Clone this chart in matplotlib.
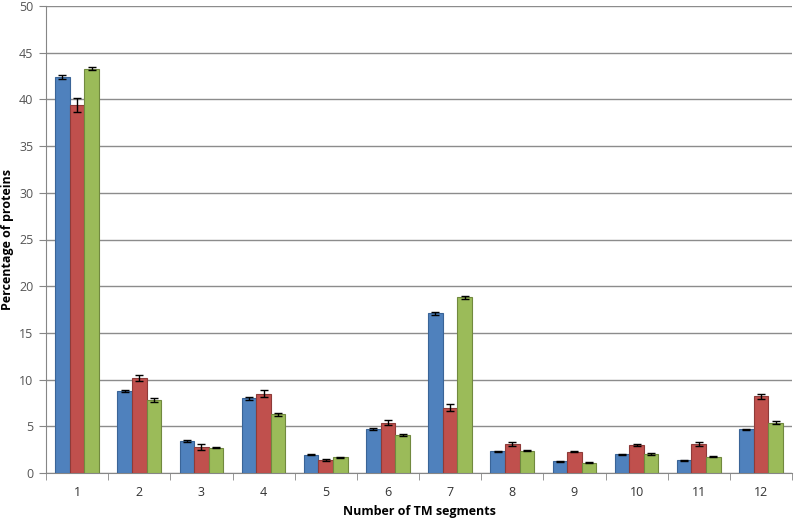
import matplotlib
matplotlib.use("Agg")
import matplotlib.pyplot as plt
import numpy as np

categories = ["1", "2", "3", "4", "5", "6", "7", "8", "9", "10", "11", "12"]
series_a = [42.4, 8.8, 3.4, 8.0, 1.95, 4.7, 17.1, 2.35, 1.25, 2.0, 1.35, 4.7]
series_b = [39.4, 10.2, 2.8, 8.5, 1.4, 5.4, 7.0, 3.1, 2.3, 3.0, 3.1, 8.2]
series_c = [43.3, 7.8, 2.7, 6.3, 1.7, 4.1, 18.8, 2.4, 1.1, 2.05, 1.75, 5.4]
err_a = [0.2, 0.1, 0.1, 0.15, 0.05, 0.1, 0.15, 0.05, 0.05, 0.05, 0.05, 0.05]
err_b = [0.7, 0.3, 0.3, 0.4, 0.1, 0.3, 0.35, 0.2, 0.1, 0.1, 0.2, 0.3]
err_c = [0.2, 0.2, 0.05, 0.15, 0.05, 0.1, 0.15, 0.05, 0.05, 0.1, 0.05, 0.15]

plt.rcParams['font.family'] = ['Open Sans', 'DejaVu Sans']

fig = plt.figure(figsize=(7.96, 5.22), dpi=100)
ax = fig.add_axes([46/796, 49/522, 746/796, 467/522])

x = np.arange(len(categories))
w = 0.235
fills = ["#4F81BD", "#C0504D", "#9BBB59"]
edges = ["#3A6497", "#8E3B39", "#71893F"]
for i, (vals, errs) in enumerate([(series_a, err_a), (series_b, err_b), (series_c, err_c)]):
    pos = x + (i - 1) * w
    ax.bar(pos, vals, width=w, color=fills[i], edgecolor=edges[i], linewidth=0.8, zorder=3)
    ax.errorbar(pos, vals, yerr=errs, fmt='none', ecolor='black', elinewidth=1.0,
                capsize=3, capthick=1.0, zorder=4)

ax.set_xlim(-0.5, len(categories) - 0.5)
ax.set_ylim(0, 50)
ax.set_yticks(np.arange(0, 51, 5))
ax.set_xticks(x)
ax.set_xticklabels(categories)
ax.set_xticks(np.arange(-0.5, len(categories), 1), minor=True)
ax.tick_params(axis='x', which='major', length=0, pad=9, labelsize=9, labelcolor='#333333')
ax.tick_params(axis='x', which='minor', length=5, color='#868686', direction='out')
ax.tick_params(axis='y', length=5, color='#868686', labelsize=9, labelcolor='#555555', pad=4)

ax.yaxis.grid(True, color='#8C8C8C', linewidth=1.0, zorder=0)
ax.set_axisbelow(True)
for s in ['top', 'right']:
    ax.spines[s].set_visible(False)
ax.spines['left'].set_color('#868686')
ax.spines['bottom'].set_color('#868686')

ax.set_xlabel("Number of TM segments", fontsize=9, fontweight='bold', va='center')
ax.xaxis.set_label_coords(0.5, (10 - 49) / 467)
ax.set_ylabel("Percentage of proteins", fontsize=9, fontweight='bold', va='center')
ax.yaxis.set_label_coords((8 - 46) / 746, 0.5)

fig.savefig("out.png", dpi=100)
